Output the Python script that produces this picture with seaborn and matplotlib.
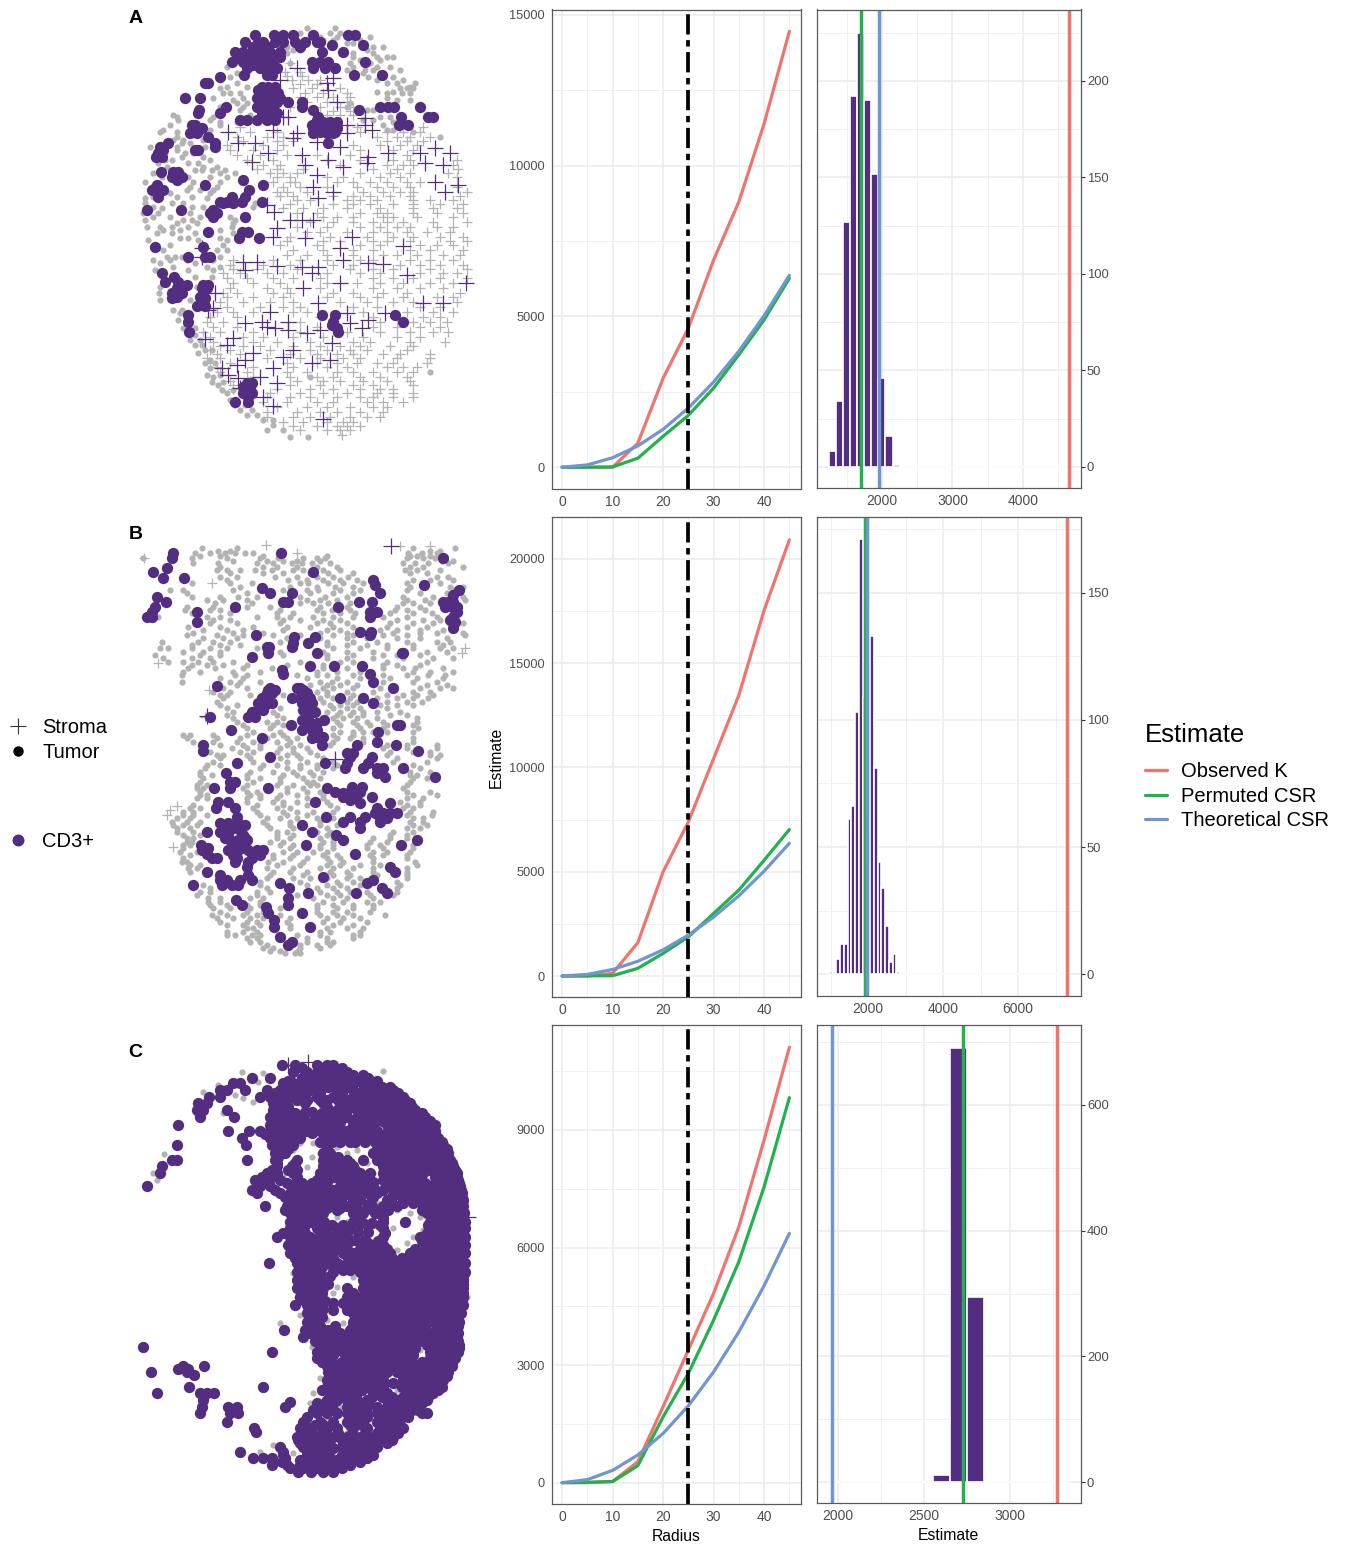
import numpy as np
import pandas as pd
import matplotlib
matplotlib.use("Agg")
import matplotlib.pyplot as plt
import seaborn as sns
from matplotlib.lines import Line2D
from matplotlib.ticker import MultipleLocator

W, H = 1348, 1544
PURPLE = "#522D80"
GREY = "#B3B3B3"
TICK = "#4D4D4D"
RED = "#F0746E"
GREEN = "#22B14C"
BLUE = "#6F96CF"

radius = [0, 5, 10, 15, 20, 25, 30, 35, 40, 45]
theoretical = [0, 78, 314, 707, 1257, 1963, 2827, 3848, 5027, 6362]
a_observed = [0, 0, 0, 800, 2950, 4610, 6870, 8800, 11390, 14450]
a_permuted = [0, 0, 10, 300, 1025, 1720, 2625, 3730, 4885, 6265]
b_observed = [0, 0, 130, 1600, 5000, 7390, 10420, 13460, 17530, 20900]
b_permuted = [0, 10, 15, 370, 1085, 1880, 3000, 4120, 5550, 7020]
c_observed = [0, 0, 30, 536, 1940, 3385, 4830, 6530, 8745, 11110]
c_permuted = [0, 10, 30, 434, 1680, 2790, 4150, 5640, 7550, 9825]

a_bin_centers = [1300, 1400, 1500, 1600, 1700, 1800, 1900, 2000, 2100, 2200]
a_bin_counts = [8, 34, 127, 192, 225, 190, 152, 46, 16, 1]
b_bin_centers = [1000, 1100, 1200, 1300, 1400, 1500, 1600, 1700, 1800, 1900, 2000,
                 2100, 2200, 2300, 2400, 2500, 2600, 2700, 2800]
b_bin_counts = [1, 1, 6, 12, 12, 61, 66, 103, 171, 109, 124, 133, 81, 44, 34, 19, 5, 8, 1]
c_bin_centers = [2600, 2700, 2800]
c_bin_counts = [11, 691, 294]

# observed, permuted, theoretical at radius 25
a_vlines = [4655, 1707, 1962]
b_vlines = [7298, 1902, 1960]
c_vlines = [3277, 2730, 1964]

# tissue points, (y, [x, x, ...]) per row
a_stroma_grey = [
    (190, [510]), (215, [495, 540]), (240, [515, 565, 600]), (265, [520, 575, 660]),
    (290, [540, 590, 640, 690]), (320, [510, 600, 660, 700]), (345, [620, 660, 700]),
    (380, [360, 710, 840, 910]), (410, [350, 440, 490, 770, 830, 870, 930]),
    (435, [320, 430, 490, 700, 780, 840, 890]), (465, [350, 420, 500, 590, 690, 860]),
    (495, [430, 480, 660, 800, 850, 880, 1000]), (520, [450, 490, 530, 720, 810, 870, 985]),
    (545, [460, 510, 525, 650, 700, 750, 800, 860, 900]),
    (575, [470, 500, 560, 730, 790, 840, 880, 1040]),
    (600, [530, 570, 680, 720, 770, 880, 930, 1000]),
    (625, [490, 550, 610, 680, 780, 880, 940, 1010]),
    (650, [610, 650, 700, 790, 820, 890, 1000]),
    (680, [530, 620, 720, 780, 830, 870, 950, 1000]),
    (710, [510, 630, 740, 820, 880, 960, 1030]),
    (735, [480, 590, 720, 780, 900, 950, 1000]),
    (765, [500, 560, 620, 700, 790, 830, 890, 970, 1020]),
    (795, [330, 430, 510, 640, 700, 840, 900, 960, 1030]),
    (820, [310, 360, 440, 490, 620, 720, 780, 900, 970, 1010]),
    (850, [340, 400, 480, 620, 710, 780, 850, 930, 1000]),
    (880, [310, 350, 460, 510, 640, 700, 790, 860, 1020]),
    (905, [300, 370, 450, 520, 660, 740, 820, 880, 1010]),
    (935, [290, 340, 400, 520, 560, 730, 860, 940, 1000]),
    (965, [260, 310, 540, 780, 880, 930, 980]),
    (995, [250, 300, 400, 540, 680, 780, 870, 940, 985]),
    (1025, [280, 400, 470, 570, 700, 750, 870, 975]),
    (1050, [270, 330, 450, 570, 620, 690, 740, 860]),
    (1075, [260, 300, 440, 540, 600, 670, 720, 830, 930]),
    (1100, [290, 400, 520, 620, 680, 800, 850, 890]),
    (1130, [400, 510, 590, 640, 720, 780, 860]),
    (1155, [340, 510, 600, 700, 760, 880]),
    (1180, [450, 540, 610, 680, 770, 820, 880]),
    (1205, [430, 500, 590, 640, 740, 790, 850]),
    (1235, [440, 530, 600, 650, 720, 790]),
    (1265, [490, 550, 620, 670, 700]),
    (1290, [540, 620, 660, 690]), (1305, [665]),
]
a_stroma_grey_more = [
    (228, [500, 545]), (252, [540, 590]), (278, [555, 610, 680]), (305, [560, 620, 680]), (332, [640, 690]),
    (395, [390, 470, 720, 800, 850, 900]), (422, [370, 470, 520, 800, 860, 910]),
    (450, [330, 400, 470, 720, 820, 880]), (480, [380, 460, 620, 720, 820, 870, 1010]),
    (508, [410, 470, 550, 760, 830, 1015]), (532, [470, 510, 620, 670, 780, 840, 1010]),
    (560, [490, 540, 620, 710, 770, 820, 870, 1010]), (588, [480, 520, 640, 700, 750, 810, 870, 1020]),
    (612, [510, 640, 700, 750, 820, 880, 960, 1030]), (638, [530, 590, 720, 770, 800, 880, 950, 1030]),
    (665, [570, 640, 700, 760, 800, 850, 940, 1040]), (695, [560, 600, 680, 760, 800, 860, 920, 990]),
    (722, [500, 610, 660, 760, 800, 870, 990, 1040]), (750, [520, 610, 700, 760, 870, 930, 1030]),
    (780, [340, 460, 540, 620, 720, 760, 870, 930, 1000]), (808, [340, 410, 530, 690, 760, 820, 930, 1040]),
    (835, [320, 380, 460, 520, 600, 760, 820, 880, 960, 1040]), (865, [330, 440, 500, 600, 760, 830, 900, 970]),
    (892, [320, 400, 490, 620, 720, 770, 850, 950, 1000]), (920, [320, 420, 490, 540, 700, 770, 900, 960]),
    (950, [270, 350, 600, 760, 830, 910, 960]), (980, [280, 350, 590, 760, 830, 900, 960]),
    (1010, [270, 370, 430, 520, 610, 730, 830, 900]), (1038, [300, 370, 420, 520, 600, 660, 720, 810, 880]),
    (1062, [290, 360, 510, 590, 650, 700, 790, 840, 930]), (1088, [270, 330, 500, 590, 650, 710, 770, 820, 920]),
    (1115, [300, 380, 500, 560, 650, 700, 760, 830, 880]), (1143, [330, 390, 530, 610, 660, 730, 800, 870]),
    (1168, [340, 470, 570, 640, 720, 780, 820]), (1192, [440, 510, 570, 650, 720, 760, 820, 880]),
    (1220, [470, 560, 620, 690, 760, 800]), (1250, [440, 520, 570, 630, 690, 740, 780]),
    (1278, [520, 590, 650, 680, 720]),
]
a_tumor_grey = [
    (85, [560, 645]), (100, [630, 660, 540]), (120, [640, 720, 610]), (140, [790, 500, 760]),
    (150, [540, 740, 520]), (170, [820, 800, 700, 770]), (190, [510, 690, 750]),
    (210, [840, 680, 735, 760]), (230, [330, 745, 790, 820]), (250, [800, 830, 885, 350]),
    (265, [300, 860, 880, 840]), (280, [310, 330, 360, 800, 845, 870]), (295, [280, 370, 800]),
    (310, [350, 380, 690]), (330, [360, 760, 740]), (345, [160, 390]),
    (360, [175, 270, 760, 730]), (375, [150, 300, 790]), (390, [130, 270, 800, 820]),
    (410, [265, 170, 960]), (430, [185, 210]), (450, [170]), (470, [185, 250, 105]),
    (490, [115, 205, 235]), (510, [275, 225, 315, 245]), (530, [125, 270, 320, 205]),
    (560, [210, 290]), (580, [270, 150]), (595, [260, 75]), (610, [75, 155, 190, 405]),
    (625, [125]), (640, [115, 210, 70]), (660, [75, 190, 215, 345]),
    (680, [120, 155, 205, 335, 80]), (700, [110, 225, 155, 340]), (720, [235, 320, 85]),
    (735, [150, 310]), (770, [140, 165, 185, 300]), (790, [120, 225]), (810, [105, 205, 280]),
    (830, [225, 275]), (880, [118]), (930, [160, 185]), (960, [175]), (1005, [225]),
    (1035, [225, 245]), (1060, [235]), (1080, [270]), (1105, [270]), (1115, [930]),
    (1130, [280, 570]), (1155, [295]), (1180, [320]), (1200, [330]), (1230, [360, 395]),
    (1260, [430, 460]), (1275, [460]), (1310, [510, 565]),
    (110, [600, 650, 750]), (130, [530, 680, 700]), (160, [760, 700, 500]), (180, [780, 720]),
    (200, [320, 700, 770, 810]), (220, [780, 350, 730]), (240, [300, 850, 770]), (260, [320, 380, 870]),
    (275, [770, 820]), (300, [340, 830, 870]), (320, [370, 300, 680]), (350, [170, 280, 810, 780]),
    (365, [350, 300, 820]), (395, [120, 170, 880]), (420, [160, 250, 190]), (440, [255, 170, 90]),
    (460, [195, 220]), (480, [135, 155, 270]), (500, [290, 140, 250]), (520, [300, 345, 100]),
    (545, [220, 300, 75]), (570, [200, 240, 280]), (590, [100, 170, 215]), (620, [100, 215, 250, 400]),
    (650, [150, 240, 330, 100]), (670, [170, 230, 340]), (690, [130, 180, 300]), (715, [180, 205, 300]),
    (750, [130, 290, 320]), (780, [100, 200, 150, 280]), (800, [160, 300, 260]), (860, [120, 230]),
    (900, [120, 210]), (940, [195, 180]), (985, [190, 225]), (1020, [210, 240]), (1050, [255, 275]),
    (1090, [255, 285]), (1125, [260, 300]), (1145, [275, 310]), (1170, [305, 340]), (1215, [345, 375]),
    (1245, [410, 380]), (1290, [490, 440]),
]
a_stroma_cd3_x = [530, 480, 640, 620, 625, 650, 490, 505, 325, 460, 680, 735, 735, 755, 680, 530, 520,
                  355, 405, 590, 660, 445, 395, 545, 555, 625, 670, 745, 740, 805, 900, 915, 945, 990,
                  970, 590, 945, 1015, 975, 580, 640, 595, 440, 462, 545, 580, 510, 470, 458, 555, 695,
                  660, 850, 245, 245, 668, 370, 410, 375, 470, 545, 575, 595, 745, 788, 860, 660, 1037,
                  550, 285, 910, 970, 595, 265, 280, 450, 680, 795, 375, 425, 440, 505, 465, 505, 560,
                  600, 690, 745, 725, 255, 340, 320, 635, 520, 400, 490, 375, 350, 575, 630, 305, 460,
                  325, 355, 420, 470, 360, 430, 460, 610]
a_stroma_cd3_y = [205, 240, 235, 250, 270, 305, 350, 352, 395, 390, 375, 355, 375, 390, 400, 400, 415,
                  430, 430, 425, 440, 460, 487, 465, 495, 480, 500, 470, 490, 458, 460, 490, 445, 460,
                  495, 525, 545, 555, 575, 560, 575, 595, 615, 635, 660, 660, 660, 685, 712, 715, 712,
                  745, 738, 745, 770, 780, 785, 785, 810, 797, 800, 818, 800, 790, 793, 825, 850, 848,
                  865, 880, 910, 908, 910, 930, 925, 935, 940, 940, 968, 965, 980, 965, 985, 990, 1000,
                  990, 970, 960, 985, 1018, 1015, 1035, 1030, 1050, 1060, 1070, 1080, 1095, 1090, 1080,
                  1105, 1105, 1125, 1135, 1130, 1150, 1165, 1190, 1218, 1258]
a_tumor_cd3 = [
    (105, [405, 463, 490, 518, 580, 685, 705]), (125, [375, 415, 430, 465, 490, 525, 555, 590, 600]),
    (135, [635, 730]), (155, [345, 370, 395, 420, 450, 480, 605, 670]),
    (170, [360, 385, 410, 440, 465, 480]), (185, [335, 370, 395, 425, 455, 575, 600, 625, 735]),
    (205, [380, 420, 445, 470, 580, 645, 615]), (225, [372, 440, 455, 703, 785]), (230, [300]),
    (250, [265, 255]), (260, [425, 445, 465]), (280, [420, 440, 465, 475]),
    (295, [195, 240, 410, 430, 450, 480]), (305, [420, 445, 470, 505, 545]),
    (320, [318, 410, 435, 460, 545, 780, 805, 822, 900]), (330, [238, 718, 578]),
    (340, [235, 300, 425, 450, 470]), (350, [843, 925, 940, 595]), (360, [380, 360, 410, 440, 465, 590]),
    (375, [225, 215, 838, 865, 575, 640, 625]), (385, [245, 580, 600, 630, 650]),
    (400, [210, 230, 580, 620, 640]), (430, [285, 145, 625]), (450, [130, 225, 235]), (460, [115]),
    (515, [122, 175, 160]), (525, [175]), (540, [368, 170]), (555, [255, 110, 428]), (570, [95, 130, 388]),
    (590, [115, 335, 375]), (605, [425, 365, 300, 320]), (630, [80, 183, 280]), (650, [280, 375]),
    (695, [265, 385, 365]), (715, [358, 418]), (740, [250, 105]), (770, [205, 270, 255]), (820, [127]),
    (830, [162]), (845, [135, 175]), (855, [200, 250, 265]), (880, [155, 185, 250]), (895, [155, 255]),
    (918, [230, 255]), (945, [205, 605, 645, 825]), (965, [205, 640, 848]), (995, [207, 655]),
    (1150, [395, 380]), (1170, [380]), (1190, [385]), (1205, [345, 385]),
    (140, [400, 445, 540]), (195, [400, 455]), (270, [415, 455]), (315, [425, 450]), (350, [430, 455]),
    (395, [600, 645]), (365, [610, 630, 650]), (440, [120, 285]), (470, [108, 125]), (530, [155, 185]),
    (565, [115, 105]), (610, [310, 340]), (640, [290, 270]), (865, [170, 245, 260]), (890, [170, 240]),
    (975, [635]), (985, [650]), (1160, [370, 390]), (1180, [370, 395]), (410, [265]), (385, [235]),
]

b_stroma_grey_x = [72, 438, 530, 930, 115, 268, 255, 150, 170, 140, 160, 1025, 1035, 275, 840]
b_stroma_grey_y = [115, 75, 98, 78, 430, 510, 590, 870, 858, 885, 982, 400, 385, 190, 78]
b_stroma_cd3_x = [813, 645, 262]
b_stroma_cd3_y = [78, 718, 588]
b_tumor_grey = [
    (85, [245, 350, 1005, 880]), (100, [225, 270, 315, 345, 375, 400, 865, 905, 950]),
    (115, [70, 215, 320, 420, 475, 550, 590, 615, 860, 910, 945]),
    (130, [220, 295, 410, 460, 515, 545, 575, 630, 850, 885, 925, 985]),
    (150, [290, 320, 360, 405, 455, 520, 550, 610, 660, 855, 890, 960]),
    (170, [190, 300, 350, 465, 530, 590, 640, 685, 950, 985]),
    (190, [215, 330, 395, 540, 565, 625, 670, 730, 860, 960]),
    (210, [150, 190, 340, 490, 560, 595, 660, 720, 860, 1000]),
    (230, [215, 300, 355, 410, 540, 615, 680, 850, 940, 1030]),
    (250, [285, 395, 540, 580, 625, 690, 850, 880, 930]),
    (270, [195, 270, 300, 480, 590, 635, 690, 825, 860, 915]),
    (290, [115, 260, 300, 410, 470, 510, 580, 640, 700, 790, 860, 950]),
    (310, [270, 350, 480, 590, 630, 680, 810, 880, 940, 1030]),
    (330, [250, 320, 370, 490, 620, 660, 780, 830, 900, 970]),
    (345, [200, 290, 370, 460, 540, 640, 700, 790, 860, 1035]),
    (365, [125, 235, 280, 330, 480, 620, 700, 770, 860, 950, 990]),
    (385, [120, 145, 215, 270, 320, 410, 510, 640, 720, 800, 880, 960, 1000]),
    (405, [105, 240, 300, 490, 620, 700, 790, 830, 900]),
    (425, [145, 190, 235, 280, 340, 540, 660, 700, 800, 920]),
    (445, [205, 285, 370, 455, 610, 680, 790, 850, 885, 970]),
    (465, [185, 345, 380, 530, 590, 620, 700, 790, 860, 925, 975]),
    (485, [185, 330, 360, 420, 600, 635, 680, 790, 880, 950]),
    (505, [310, 380, 610, 640, 700, 780, 900, 960, 1000]),
    (525, [300, 320, 390, 490, 620, 700, 800, 850, 890, 940]),
    (545, [290, 610, 680, 710, 800, 860, 905]), (565, [320, 480, 640, 680, 720, 800]),
    (585, [320, 470, 650, 690, 730, 810, 860]), (605, [350, 440, 470, 650, 700, 740, 790, 890]),
    (625, [380, 450, 640, 720, 790, 895]), (645, [190, 210, 280, 380, 460, 490, 640, 700]),
    (665, [220, 280, 350, 400, 470, 510, 640, 730, 880]),
    (685, [335, 380, 420, 480, 520, 560, 790, 860, 950]),
    (705, [290, 310, 380, 500, 530, 590, 800, 930, 960]),
    (725, [280, 400, 500, 560, 640, 820, 920]), (745, [255, 420, 500, 540, 590, 640, 900]),
    (765, [240, 275, 380, 490, 530, 580, 870, 890]), (785, [240, 400, 480, 560, 580, 870]),
    (805, [230, 250, 370, 500, 550, 850]), (825, [240, 260, 390, 420, 480, 530, 610, 880, 950]),
    (845, [380, 460, 490, 530, 620, 840, 900]), (865, [210, 240, 400, 470, 510, 650, 850, 880]),
    (885, [190, 220, 260, 420, 500, 560, 860, 935]), (905, [155, 200, 240, 430, 510, 600, 870, 910]),
    (925, [170, 210, 450, 520, 620, 860, 900]), (945, [190, 240, 470, 520, 620, 810, 860]),
    (965, [200, 215, 450, 490, 610, 640, 750, 800]), (985, [190, 510, 600, 640, 740, 790, 880]),
    (1005, [210, 460, 520, 610, 650, 750, 790, 860]),
    (1025, [185, 200, 445, 490, 550, 630, 670, 760, 885]),
    (1045, [205, 230, 440, 520, 600, 640, 700, 760, 860]), (1065, [450, 550, 640, 690, 770, 860]),
    (1085, [420, 540, 650, 700, 830]), (1105, [270, 440, 590, 640, 680, 830]),
    (1125, [230, 410, 530, 620, 660, 750, 820]), (1145, [265, 300, 420, 610, 670, 740, 780]),
    (1165, [280, 330, 390, 480, 590, 650, 700, 760]),
    (1185, [275, 320, 370, 410, 480, 600, 650, 700, 795]),
    (1205, [300, 380, 410, 500, 610, 660, 740]), (1225, [380, 400, 510, 620, 680, 730]),
    (1245, [320, 345, 395, 420, 530, 600, 700, 720]), (1265, [390, 420, 560, 620, 640]),
    (1285, [430, 460, 540, 600]), (1300, [495, 525, 540]),
]
b_tumor_grey_more = [
    (92, [930, 960, 295, 330]), (108, [240, 300, 430, 620, 870, 930, 890]),
    (122, [340, 440, 490, 530, 600, 965, 1000]), (140, [300, 430, 470, 530, 590, 650, 870, 910, 1030]),
    (160, [330, 430, 490, 570, 625, 700, 870, 920]), (180, [320, 505, 560, 610, 660, 710, 880, 930, 1000]),
    (200, [360, 510, 590, 645, 700, 870, 990, 1030]), (220, [200, 380, 570, 640, 700, 900, 980]),
    (240, [260, 310, 380, 560, 600, 650, 860, 915, 1035]), (260, [200, 280, 380, 450, 600, 680, 900, 830]),
    (280, [215, 330, 470, 520, 610, 660, 705, 810, 880, 935]), (300, [280, 330, 490, 540, 610, 660, 830, 910, 960]),
    (320, [205, 300, 400, 500, 570, 640, 700, 800, 860, 920, 1000]),
    (338, [220, 340, 430, 600, 680, 820, 900, 950, 1030]), (355, [250, 310, 350, 500, 600, 680, 740, 830, 900, 980]),
    (375, [215, 300, 360, 620, 680, 740, 800, 880, 970]), (395, [190, 250, 300, 480, 610, 680, 760, 920, 980]),
    (415, [130, 215, 270, 620, 680, 760, 850, 940, 1000]), (435, [215, 260, 310, 380, 500, 610, 790, 830, 900]),
    (455, [190, 240, 340, 420, 590, 650, 720, 880, 930, 1000]), (475, [300, 370, 560, 650, 720, 810, 890, 970]),
    (495, [350, 570, 620, 660, 710, 760, 920, 980]), (515, [280, 330, 590, 620, 680, 760, 880, 930]),
    (535, [310, 600, 640, 690, 770, 830, 880, 925]), (555, [300, 350, 630, 660, 700, 780, 830, 880]),
    (575, [340, 460, 620, 660, 700, 730, 770, 840]), (595, [340, 490, 640, 670, 710, 770, 890]),
    (615, [370, 460, 490, 660, 710, 750, 880, 800]), (635, [400, 480, 660, 700, 730, 760, 800, 880]),
    (655, [200, 290, 360, 440, 500, 530, 650, 690, 730, 880]), (675, [300, 370, 420, 500, 540, 630, 800, 860, 950]),
    (695, [270, 360, 400, 470, 520, 570, 810, 880, 930]), (715, [300, 390, 480, 540, 610, 830, 950]),
    (735, [260, 300, 430, 470, 540, 590, 650, 880]), (755, [240, 390, 460, 520, 570, 610, 870, 930]),
    (775, [250, 380, 420, 480, 550, 600, 880, 920]), (795, [230, 260, 380, 470, 520, 570, 590, 860]),
    (815, [240, 380, 410, 500, 560, 600, 860, 930]), (835, [230, 260, 380, 420, 470, 560, 610, 860, 910]),
    (855, [220, 410, 490, 560, 630, 860, 900]), (875, [190, 220, 410, 490, 530, 580, 640, 870, 940]),
    (895, [170, 210, 440, 480, 530, 590, 640, 880, 910]), (915, [160, 190, 230, 440, 510, 600, 650, 880, 920]),
    (935, [170, 220, 470, 500, 590, 630, 880, 820]), (955, [200, 220, 470, 510, 600, 640, 760, 810, 860]),
    (975, [190, 210, 480, 520, 600, 640, 740, 780, 880]), (995, [180, 230, 490, 530, 580, 620, 760, 800, 870]),
    (1015, [190, 460, 510, 560, 620, 660, 760, 860]), (1035, [210, 240, 470, 540, 620, 660, 720, 780, 890]),
    (1055, [210, 460, 510, 560, 630, 680, 760, 860]), (1075, [440, 520, 570, 620, 680, 720, 860]),
    (1095, [250, 420, 560, 620, 660, 720, 840]), (1115, [240, 270, 410, 450, 600, 650, 690, 740, 830]),
    (1135, [265, 300, 390, 430, 580, 640, 680, 760]), (1155, [270, 320, 380, 420, 590, 640, 700, 760]),
    (1175, [300, 380, 430, 590, 640, 680, 750]), (1195, [290, 340, 390, 430, 510, 620, 670, 720]),
    (1215, [320, 370, 420, 510, 640, 700]), (1235, [320, 370, 410, 600, 630, 720]),
    (1255, [380, 410, 560, 620, 700]), (1275, [440, 540, 590, 630]), (1292, [450, 480, 535]),
]
b_tumor_cd3 = [
    (100, [160, 483]), (115, [155, 970]), (145, [140]), (155, [100, 580]), (175, [130, 192]), (180, [758]),
    (195, [765, 912]), (205, [425]), (210, [1017]), (220, [450, 515, 780]), (230, [112]),
    (245, [968, 985, 1000, 490, 503, 138, 757, 716]), (260, [345, 655, 105, 995]),
    (275, [770, 750, 1010, 95, 230]), (290, [80, 95, 750, 1000]), (305, [232, 1005]), (325, [998]),
    (335, [720, 752]), (345, [408, 750]), (350, [522, 585]), (370, [565, 520]), (382, [440, 448, 515]),
    (400, [590, 845, 850, 445]), (412, [397]), (437, [725, 643, 570]), (450, [485]), (462, [490, 750]),
    (485, [758]), (497, [290]), (505, [820, 450, 540, 530]), (520, [440, 560, 455]),
    (535, [515, 540, 570, 425, 660, 730]), (550, [415, 455, 545, 575, 760]), (570, [410, 430, 550, 575]),
    (590, [383, 405, 270, 565]), (600, [613, 545, 565]), (615, [512, 840, 830]),
    (630, [545, 575, 590, 333]), (635, [775]), (655, [427, 575, 600]), (665, [770]),
    (675, [605, 710, 250, 828]), (692, [250, 895]), (710, [450, 690, 757]), (730, [680, 350, 745, 615]),
    (745, [850, 675, 730]), (760, [318, 770]), (772, [795, 945]), (785, [345, 330]),
    (803, [283, 622, 330, 445]), (815, [645, 690, 720]), (830, [755, 670, 705]), (845, [295, 325, 585]),
    (850, [810, 720]), (865, [288, 345, 770]), (880, [830, 790]), (890, [617, 690, 735, 350]),
    (905, [670, 720, 780]), (915, [310, 375, 545]), (925, [340, 720]), (935, [300, 575, 262]),
    (945, [370, 648, 325]), (960, [890, 670, 330, 355, 380]), (975, [243, 345, 843, 558]),
    (990, [430, 410, 325, 355, 385, 245]), (1003, [705, 260]), (1015, [350, 395, 290, 275]),
    (1040, [810, 380]), (1055, [262, 825]), (1070, [608]), (1080, [320, 300, 760, 395, 360]),
    (1090, [480, 740]), (1095, [220, 335]), (1105, [508, 785]), (1120, [708, 563, 800]), (1135, [505]),
    (1140, [348]), (1155, [365, 505]), (1160, [438]), (1178, [547, 443]), (1200, [462]), (1220, [462, 570]),
    (1250, [480]), (1265, [515]), (1275, [505]),
    (510, [445, 465, 550]), (530, [445, 555]), (555, [435, 560]), (575, [395, 560, 585]), (610, [560, 590]),
    (650, [590, 610]), (910, [325, 355, 300]), (930, [320, 360]), (955, [315, 375]), (985, [340, 375]),
    (1005, [340, 400, 420]), (1025, [345, 385]), (1065, [300, 385]), (1095, [305, 355]), (820, [670, 705]),
    (800, [695, 725]), (840, [690]), (880, [765, 810]), (895, [780, 800]), (260, [975, 1010]), (300, [990]),
    (225, [1000]), (745, [770, 790]), (700, [680, 700]), (985, [265]),
]

c_tumor_grey_x = [365, 430, 295, 790, 415, 250, 345, 370, 400, 310, 133, 110, 100, 520, 560, 590, 630, 630,
                  540, 580, 600, 600, 520, 560, 575, 590, 490, 510, 650, 680, 710, 740, 760, 650, 630, 640,
                  740, 790, 830, 770, 720, 600, 650, 680, 630, 830, 870, 900, 910, 880, 820, 760, 830, 860,
                  670, 700, 650, 640, 700, 610, 670, 620, 480, 540, 575, 600, 580, 570, 660, 620, 680, 520,
                  460, 420, 480, 640, 790, 770, 800, 830, 640, 750, 900, 920, 935, 800, 690, 850, 510, 520,
                  530, 1040]
c_tumor_grey_y = [95, 100, 135, 92, 125, 155, 165, 175, 185, 220, 343, 420, 398, 190, 210, 220, 235, 170,
                  310, 310, 300, 340, 330, 380, 350, 410, 410, 425, 320, 340, 330, 370, 400, 350, 440, 420,
                  440, 460, 460, 490, 520, 520, 530, 545, 550, 510, 520, 530, 570, 590, 565, 610, 630, 610,
                  680, 710, 740, 760, 790, 820, 850, 840, 850, 825, 920, 1015, 1060, 1090, 1100, 1140, 1180,
                  1240, 1215, 1235, 1270, 1235, 1180, 1095, 1030, 1050, 960, 960, 930, 880, 400, 230, 170,
                  380, 620, 700, 770, 770]
c_stroma_cd3_x = [565, 505, 540, 1045]
c_stroma_cd3_y = [65, 75, 515, 530]
c_tumor_cd3 = [
    (75, [485, 525, 590, 620, 640]), (95, [520, 560, 590, 620, 650, 680]),
    (115, [395, 450, 545, 575, 605, 635, 665, 695, 720, 745]),
    (130, [340, 360, 490, 520, 550, 580, 610, 640, 670, 700, 730, 760]),
    (150, [375, 320, 300, 440, 480, 510, 540, 570, 600, 650, 700, 730, 760, 790, 820]),
    (170, [268, 300, 420, 450, 480, 510, 540, 590, 640, 670, 700, 730, 760, 790, 820, 850]),
    (190, [235, 260, 460, 490, 555, 610, 660, 690, 720, 750, 780, 810, 840, 870]),
    (210, [230, 250, 322, 460, 490, 620, 650, 680, 710, 740, 770, 800, 830, 860, 885]),
    (230, [240, 342, 450, 480, 510, 540, 590, 620, 650, 680, 710, 740, 770, 800, 830, 860, 890, 915]),
    (255, [173, 450, 480, 510, 540, 590, 620, 650, 730, 760, 800, 830, 860, 890, 920, 945]),
    (272, [323, 388, 420, 450, 480, 510, 540, 560, 600, 630, 680, 710, 740, 770, 830, 860, 890, 920, 945]),
    (295, [365, 450, 480, 510, 540, 620, 650, 690, 720, 750, 780, 810, 840, 870, 900, 930, 955]),
    (315, [172, 378, 455, 490, 520, 620, 770, 800, 830, 860, 890, 920, 950, 970]),
    (340, [465, 495, 610, 630, 760, 790, 820, 850, 880, 910, 940, 970, 985]),
    (360, [172, 155, 382, 465, 530, 610, 640, 680, 730, 770, 800, 830, 860, 920, 950, 980, 990]),
    (378, [125, 470, 515, 610, 640, 670, 700, 790, 820, 850, 880, 910, 940, 970, 1000]),
    (400, [120, 440, 470, 520, 600, 630, 660, 690, 720, 790, 820, 850, 880, 910, 950, 980, 1010]),
    (420, [405, 440, 480, 530, 590, 670, 700, 730, 790, 820, 860, 900, 960, 990, 1015]),
    (437, [80, 420, 450, 530, 560, 590, 660, 700, 730, 760, 800, 830, 870, 900, 930, 960, 990, 1020]),
    (460, [410, 480, 510, 540, 570, 600, 650, 680, 710, 740, 770, 840, 880, 910, 940, 970, 1000, 1025]),
    (480, [510, 540, 580, 620, 660, 720, 800, 880, 910, 940, 970, 1000, 1028]),
    (497, [435, 500, 530, 560, 590, 640, 680, 700, 755, 790, 830, 920, 950, 980, 1010, 1030]),
    (520, [510, 550, 580, 700, 730, 790, 920, 950, 980, 1010, 1032]),
    (545, [510, 540, 570, 613, 700, 790, 855, 930, 960, 990, 1020, 1034]),
    (565, [510, 540, 590, 620, 650, 690, 790, 930, 960, 990, 1020, 1034]),
    (590, [470, 510, 540, 570, 600, 630, 660, 790, 900, 930, 960, 990, 1020, 1034]),
    (615, [505, 535, 565, 600, 640, 670, 770, 790, 920, 950, 980, 1010, 1034]),
    (640, [510, 540, 570, 600, 630, 700, 730, 760, 790, 810, 870, 900, 930, 960, 990, 1020, 1034]),
    (670, [447, 530, 560, 590, 620, 650, 710, 740, 770, 800, 830, 860, 890, 920, 950, 980, 1010, 1034]),
    (695, [530, 560, 590, 640, 720, 750, 780, 810, 840, 870, 900, 930, 960, 990, 1020, 1034]),
    (720, [530, 560, 590, 620, 730, 760, 790, 820, 850, 880, 910, 940, 970, 1000, 1030]),
    (745, [530, 560, 590, 610, 680, 730, 760, 790, 820, 850, 880, 910, 940, 970, 1000, 1030]),
    (770, [540, 570, 680, 710, 730, 760, 790, 820, 850, 880, 910, 940, 970, 1000, 1028]),
    (795, [525, 560, 590, 720, 750, 780, 810, 840, 870, 900, 930, 960, 990, 1020, 1028]),
    (820, [560, 590, 700, 730, 760, 790, 820, 850, 880, 910, 940, 970, 1000, 1022]),
    (845, [560, 590, 700, 730, 760, 790, 820, 850, 880, 910, 940, 970, 1000, 1018]),
    (870, [492, 555, 585, 625, 690, 720, 750, 780, 810, 840, 870, 900, 950, 980, 1010]),
    (890, [550, 590, 620, 680, 710, 740, 770, 800, 830, 860, 890, 920, 950, 980, 1012]),
    (915, [600, 630, 660, 690, 720, 750, 780, 810, 840, 870, 920, 950, 980, 1010, 1018]),
    (922, [70]), (935, [455, 590, 610, 670, 700, 730, 780, 810, 840, 870, 930, 960, 990, 1015]),
    (955, [590, 620, 680, 710, 770, 800, 830, 860, 930, 960, 990, 1005]),
    (977, [253, 190, 620, 650, 680, 710, 740, 770, 800, 830, 860, 890, 920, 950, 980, 995]),
    (988, [175, 205]),
    (997, [92, 200, 625, 650, 680, 710, 740, 770, 800, 830, 860, 890, 920, 950, 985]), (1005, [222]),
    (1020, [620, 650, 680, 710, 740, 770, 790, 850, 880, 910, 940, 970]),
    (1040, [208, 430, 620, 650, 680, 710, 740, 770, 790, 845, 880, 910, 940, 965]),
    (1060, [111, 240, 260, 282, 650, 680, 710, 770, 800, 880, 910, 940]),
    (1080, [250, 620, 650, 680, 710, 740, 800, 830, 860, 890, 920]), (1085, [510]),
    (1100, [495, 325, 350, 245, 600, 630, 680, 800, 830, 860, 890]),
    (1120, [240, 355, 330, 590, 710, 770, 800, 830, 860, 905, 920]),
    (1145, [320, 550, 600, 680, 720, 770, 800, 830]),
    (1165, [402, 540, 570, 620, 650, 700, 740, 780, 810, 850]), (1175, [408]),
    (1190, [530, 560, 590, 640, 680, 720, 760, 790, 820]),
    (1210, [540, 570, 600, 620, 680, 710, 740, 770, 800]),
    (1235, [360, 490, 560, 590, 620, 690, 720, 750]),
    (1255, [400, 430, 455, 495, 570, 600, 630, 680, 710, 740]),
    (1275, [455, 500, 540, 570, 600, 630, 660, 690]), (1295, [535, 572, 610, 640]),
]
c_tumor_cd3_more = [
    (85, [545, 605, 635, 665]), (105, [600, 630, 660, 700, 730]), (122, [505, 560, 620, 680, 710, 770]),
    (140, [500, 535, 590, 625, 685, 745, 785, 810]), (160, [465, 495, 525, 555, 600, 665, 715, 745, 775, 805, 835]),
    (180, [470, 500, 530, 600, 655, 705, 735, 765, 795, 825, 855]),
    (200, [475, 505, 620, 670, 700, 730, 760, 790, 820, 850, 875]),
    (220, [465, 495, 525, 605, 635, 665, 725, 755, 785, 815, 845, 875, 905]),
    (243, [465, 495, 525, 555, 605, 635, 745, 785, 815, 845, 875, 905, 930]),
    (263, [465, 495, 525, 615, 695, 725, 755, 815, 845, 875, 905, 930]),
    (283, [435, 465, 495, 525, 615, 665, 700, 735, 765, 795, 825, 855, 885, 915, 945]),
    (305, [465, 505, 635, 705, 735, 765, 795, 825, 855, 885, 915, 945, 965]),
    (328, [470, 505, 620, 775, 805, 835, 865, 895, 925, 955, 980]),
    (350, [475, 625, 655, 780, 810, 840, 870, 900, 930, 960, 985]),
    (370, [470, 525, 625, 655, 690, 785, 815, 845, 875, 905, 935, 965, 995]),
    (390, [455, 505, 530, 615, 645, 675, 705, 800, 830, 860, 890, 930, 965, 995, 1005]),
    (410, [425, 455, 530, 615, 645, 675, 705, 735, 805, 835, 875, 945, 975, 1005, 1012]),
    (430, [425, 500, 545, 575, 680, 715, 745, 810, 845, 885, 915, 945, 975, 1005, 1018]),
    (450, [395, 465, 525, 555, 585, 615, 670, 715, 745, 820, 860, 895, 925, 955, 985, 1015, 1022]),
    (470, [495, 525, 555, 585, 635, 665, 695, 815, 895, 925, 955, 985, 1015, 1026]),
    (490, [520, 555, 600, 650, 700, 810, 905, 935, 965, 995, 1025]),
    (510, [495, 525, 565, 650, 715, 760, 805, 905, 935, 965, 995, 1025]),
    (533, [525, 555, 590, 715, 790, 940, 975, 1005, 1030]),
    (555, [525, 555, 600, 635, 670, 780, 925, 945, 975, 1005, 1030]),
    (578, [490, 525, 555, 600, 650, 680, 795, 920, 945, 975, 1005, 1030]),
    (602, [520, 550, 585, 620, 650, 690, 775, 905, 935, 965, 995, 1025]),
    (628, [525, 555, 585, 615, 650, 680, 720, 750, 780, 800, 885, 915, 945, 975, 1005, 1030]),
    (655, [525, 555, 585, 615, 640, 700, 725, 755, 785, 815, 845, 875, 905, 935, 965, 995, 1025]),
    (682, [545, 575, 605, 640, 705, 735, 765, 795, 825, 855, 885, 915, 945, 975, 1005, 1030]),
    (707, [545, 575, 605, 630, 735, 765, 795, 825, 855, 885, 915, 945, 975, 1005, 1030]),
    (732, [545, 575, 600, 625, 745, 775, 805, 835, 865, 895, 925, 955, 985, 1015, 1030]),
    (758, [555, 580, 605, 700, 745, 775, 805, 835, 865, 895, 925, 955, 985, 1015, 1028]),
    (782, [555, 590, 615, 730, 770, 800, 830, 860, 890, 920, 950, 980, 1010, 1026]),
    (808, [575, 610, 715, 745, 775, 805, 835, 865, 895, 925, 955, 985, 1015]),
    (832, [575, 605, 715, 745, 775, 805, 835, 865, 895, 925, 955, 985, 1015]),
    (858, [575, 600, 645, 700, 735, 765, 795, 825, 855, 885, 915, 965, 995, 1015]),
    (880, [570, 605, 635, 695, 725, 755, 785, 815, 845, 875, 935, 965, 995, 1015]),
    (903, [585, 615, 645, 695, 725, 765, 795, 825, 855, 885, 905, 935, 965, 995, 1015]),
    (925, [605, 640, 685, 715, 765, 795, 825, 855, 885, 945, 975, 1005, 1018]),
    (945, [600, 640, 695, 750, 785, 815, 845, 880, 945, 975, 1005]),
    (966, [605, 635, 665, 695, 725, 755, 785, 815, 845, 875, 905, 935, 965, 995]),
    (987, [635, 665, 695, 725, 755, 785, 815, 845, 875, 905, 935, 965, 985]),
    (1008, [640, 665, 695, 725, 755, 785, 850, 875, 905, 935, 965, 980]),
    (1030, [635, 665, 695, 725, 755, 860, 895, 925, 955]),
    (1050, [605, 635, 665, 695, 725, 755, 785, 860, 895, 925, 955]),
    (1070, [630, 665, 695, 755, 785, 815, 850, 895, 925]),
    (1090, [590, 615, 640, 690, 720, 745, 815, 845, 875, 905]),
    (1110, [580, 610, 640, 690, 725, 785, 815, 845, 875, 895]),
    (1132, [560, 700, 740, 785, 815, 845, 865]), (1155, [555, 585, 610, 635, 690, 725, 785, 815, 840]),
    (1178, [545, 575, 605, 655, 695, 735, 770, 800, 835]), (1200, [535, 600, 630, 665, 695, 725, 755, 790, 815]),
    (1222, [480, 550, 580, 610, 665, 710, 735, 770]), (1245, [490, 560, 590, 625, 665, 705, 740, 760]),
    (1265, [485, 560, 590, 620, 650, 690, 720]), (1285, [510, 550, 590, 625, 665]),
    (180, [560, 620]), (215, [555, 575]), (245, [575, 660, 700]), (265, [575, 660]), (280, [575, 645]),
    (305, [600, 660, 690]), (400, [750]), (425, [620, 760]), (450, [640, 790]), (470, [605, 760, 845, 865]),
    (490, [750, 850, 880]), (505, [620, 660, 740]), (575, [715, 745]), (600, [705, 735]), (640, [670, 690]),
    (665, [680]), (690, [670, 690]), (790, [610, 640, 670, 695]), (810, [640, 680]), (880, [660]), (905, [670]),
    (940, [640, 750]), (1030, [790, 820]), (1100, [705, 740, 770]), (1120, [620, 650, 680, 740]),
    (1145, [640]), (1190, [620]), (1225, [640]), (1260, [540, 650]), (1280, [590, 620]), (550, [730, 755, 720]),
    (610, [720, 745]), (520, [765, 610]),
]


def flat(rows):
    xs = [x for y, row in rows for x in row]
    ys = [y for y, row in rows for x in row]
    return xs, ys


def add_ax(left, top, right, bottom):
    return fig.add_axes([left / W, 1 - bottom / H, (right - left) / W, (bottom - top) / H])


def tissue(box, stroma_grey, tumor_grey, stroma_cd3, tumor_cd3):
    ax = add_ax(*box)
    if stroma_grey is not None:
        sns.scatterplot(x=stroma_grey[0], y=stroma_grey[1], marker="+", s=42, color=GREY, linewidth=0.9, ax=ax, legend=False)
    sns.scatterplot(x=tumor_grey[0], y=tumor_grey[1], marker="o", s=20, color=GREY, linewidth=0, ax=ax, legend=False)
    sns.scatterplot(x=stroma_cd3[0], y=stroma_cd3[1], marker="+", s=130, color=PURPLE, linewidth=0.9, ax=ax, legend=False)
    sns.scatterplot(x=tumor_cd3[0], y=tumor_cd3[1], marker="o", s=66, color=PURPLE, linewidth=0, ax=ax, legend=False)
    ax.set_xlim(0, 1110)
    ax.set_ylim(1350, 0)
    ax.axis("off")
    return ax


def style_panel(ax, xmajor, ymajor):
    ax.xaxis.set_major_locator(MultipleLocator(xmajor))
    ax.xaxis.set_minor_locator(MultipleLocator(xmajor / 2))
    ax.yaxis.set_major_locator(MultipleLocator(ymajor))
    ax.yaxis.set_minor_locator(MultipleLocator(ymajor / 2))
    ax.grid(True, which="major", color="#EBEBEB", lw=1.1)
    ax.grid(True, which="minor", color="#EFEFEF", lw=0.65)
    ax.set_axisbelow(True)
    ax.tick_params(which="minor", length=0)
    ax.tick_params(which="major", length=2.6, width=0.8, color="#333333", labelcolor=TICK, pad=2)
    for s in ax.spines.values():
        s.set_visible(True)
        s.set_color("#5A5A5A")
        s.set_linewidth(0.9)
    ax.set_xlabel("")
    ax.set_ylabel("")


def k_panel(box, observed, permuted, ymajor, ylim):
    ax = add_ax(*box)
    df = pd.DataFrame({
        "Radius": radius * 3,
        "Estimate": observed + permuted + theoretical,
        "kind": ["Observed K"] * 10 + ["Permuted CSR"] * 10 + ["Theoretical CSR"] * 10,
    })
    sns.lineplot(data=df, x="Radius", y="Estimate", hue="kind", errorbar=None, legend=False,
                 hue_order=["Observed K", "Permuted CSR", "Theoretical CSR"],
                 palette=[RED, GREEN, BLUE], linewidth=2.3, ax=ax)
    ax.axvline(25, color="black", lw=2.7, dashes=(5.4, 1.5, 1.7, 1.5))
    ax.set_xlim(-2.1, 47.2)
    ax.set_ylim(*ylim)
    style_panel(ax, 10, ymajor)
    ax.tick_params(axis="x", labelsize=10)
    ax.tick_params(axis="y", labelsize=9.2)
    return ax


def perm_panel(box, centers, counts, vlines, binrange, xmajor, ymajor, xlim, ylim):
    ax = add_ax(*box)
    sns.histplot(x=centers, weights=counts, binwidth=100, binrange=binrange, color=PURPLE,
                 edgecolor="white", linewidth=1.2, alpha=1, ax=ax)
    for v, c in zip(vlines, [RED, GREEN, BLUE]):
        ax.axvline(v, color=c, lw=2.5)
    ax.set_xlim(*xlim)
    ax.set_ylim(*ylim)
    style_panel(ax, xmajor, ymajor)
    ax.yaxis.tick_right()
    ax.tick_params(axis="x", labelsize=10)
    ax.tick_params(axis="y", labelsize=9.4)
    return ax


sns.set_theme(style="white")
plt.rcParams["font.family"] = ["Liberation Sans", "DejaVu Sans"]
plt.rcParams["legend.labelcolor"] = "black"
fig = plt.figure(figsize=(W / 100, H / 100), dpi=100)

ax_a = tissue((120, 0, 490, 450), flat(a_stroma_grey + a_stroma_grey_more), flat(a_tumor_grey), (a_stroma_cd3_x, a_stroma_cd3_y), flat(a_tumor_cd3))
ax_b = tissue((120, 520, 490, 970), (b_stroma_grey_x, b_stroma_grey_y), flat(b_tumor_grey + b_tumor_grey_more), (b_stroma_cd3_x, b_stroma_cd3_y), flat(b_tumor_cd3))
ax_c = tissue((120, 1040, 490, 1490), None, (c_tumor_grey_x, c_tumor_grey_y), (c_stroma_cd3_x, c_stroma_cd3_y), flat(c_tumor_cd3 + c_tumor_cd3_more))
for label, ax in zip("ABC", [ax_a, ax_b, ax_c]):
    ax.text(25, 68 if label == "A" else 58 if label == "B" else 50, label, fontsize=14, fontweight="bold", color="black", va="baseline")

k_panel((551.5, 9.5, 800.5, 488.5), a_observed, a_permuted, 5000, (-705, 15174))
k_b = k_panel((551.5, 517, 800.5, 997), b_observed, b_permuted, 5000, (-1005, 21997))
k_c = k_panel((551.5, 1025, 800.5, 1504), c_observed, c_permuted, 3000, (-544, 11678))
k_b.set_ylabel("Estimate", fontsize=11.3, color="black", labelpad=4)
k_c.set_xlabel("Radius", fontsize=11.3, color="black", labelpad=3)

perm_panel((817, 9.5, 1080.5, 488), a_bin_centers, a_bin_counts, a_vlines, (1250, 4650), 1000, 50, (1078, 4818), (-11, 237))
perm_panel((817, 517, 1080.5, 996), b_bin_centers, b_bin_counts, b_vlines, (950, 7350), 2000, 50, (632, 7664), (-8.5, 179.7))
p_c = perm_panel((817, 1025, 1080.5, 1503), c_bin_centers, c_bin_counts, c_vlines, (1950, 3350), 500, 200, (1878, 3411), (-33, 727))
p_c.set_xlabel("Estimate", fontsize=11.3, color="black", labelpad=3)

est_handles = [Line2D([], [], color=c, lw=2.3) for c in [RED, GREEN, BLUE]]
leg = fig.legend(est_handles, ["Observed K", "Permuted CSR", "Theoretical CSR"], title="Estimate",
                 loc="upper left", bbox_to_anchor=(1137 / W, 1 - 715 / H), frameon=False, fontsize=14.5,
                 title_fontsize=18.5, labelspacing=0.27, handlelength=1.1, handletextpad=0.7, borderaxespad=0)
leg._legend_box.align = "left"
leg._legend_box.sep = 11
leg.get_title().set_color("black")

cell_handles = [Line2D([], [], color="#333333", marker="+", ms=12, mew=0.8, ls=""),
                Line2D([], [], color="black", marker="o", ms=7.5, mew=0, ls="")]
fig.legend(cell_handles, ["Stroma", "Tumor"], loc="upper left", bbox_to_anchor=(-1 / W, 1 - 710 / H), frameon=False,
           fontsize=14.5, labelspacing=0.29, handlelength=1.1, handletextpad=0.65, borderaxespad=0)
fig.legend([Line2D([], [], color=PURPLE, marker="o", ms=8.6, mew=0, ls="")], ["CD3+"], loc="upper left",
           bbox_to_anchor=(-1 / W, 1 - 824 / H), frameon=False, fontsize=14.5, handlelength=1.1,
           handletextpad=0.65, borderaxespad=0)

fig.savefig("out.png", dpi=100, facecolor="white")
